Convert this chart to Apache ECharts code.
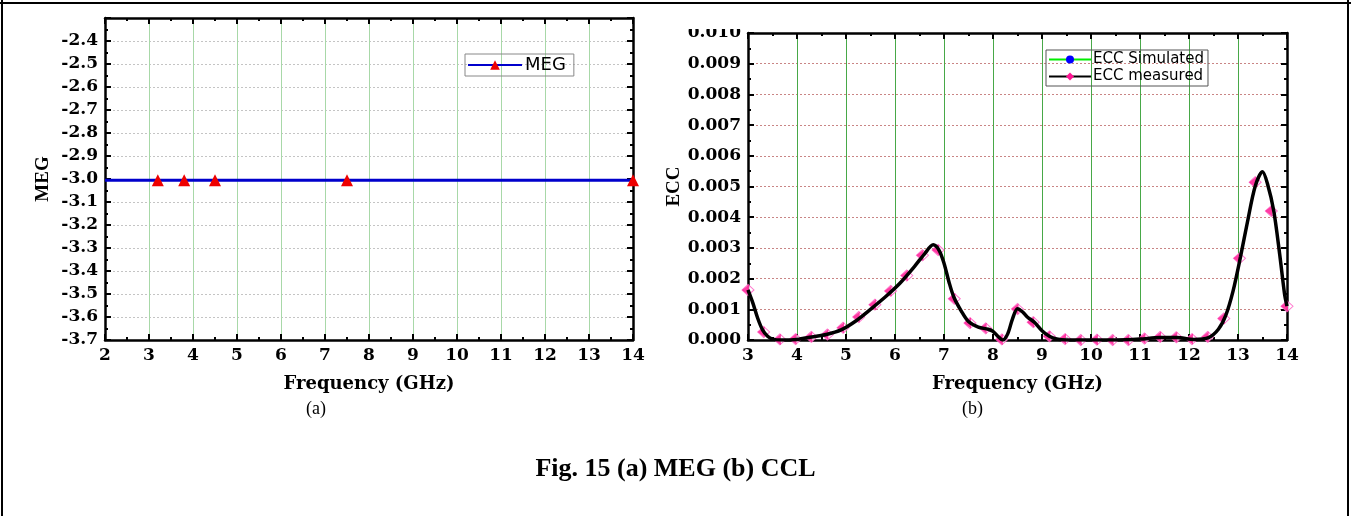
<!DOCTYPE html>
<html>
<head>
<meta charset="utf-8">
<script src="https://cdn.jsdelivr.net/npm/echarts@6/dist/echarts.min.js"></script>
<style>
  html, body { margin: 0; padding: 0; background: #fff; }
  #main { width: 1351px; height: 516px; }
</style>
</head>
<body>
<div id="main"></div>
<script>
// (a) MEG
var megFreq = [2, 3.2, 3.8, 4.5, 7.5, 14];
var megVal = [-3.005, -3.005, -3.005, -3.005, -3.005, -3.005];
var megMarked = [false, true, true, true, true, true];

// (b) ECC measured, the smooth curve
var eccCurveFreq = [3.0, 3.1, 3.2, 3.3, 3.4, 3.5, 3.7, 4.0, 4.3, 4.6, 4.9, 5.2, 5.5, 5.8, 6.1, 6.4, 6.6, 6.78, 6.9, 7.0, 7.1, 7.2, 7.35, 7.5, 7.7, 7.9, 8.0, 8.1, 8.2, 8.3, 8.4, 8.5, 8.6, 8.7, 8.85, 9.0, 9.15, 9.3, 9.5, 10.0, 10.5, 11.0, 11.4, 11.75, 12.1, 12.4, 12.6, 12.75, 12.9, 13.05, 13.2, 13.35, 13.5, 13.6, 13.73, 13.85, 13.95, 14.0];
var eccCurveVal = [0.00163, 0.0012, 0.0007, 0.00032, 0.00012, 0.00003, 0.0, 0.00002, 0.0001, 0.00018, 0.00033, 0.00062, 0.001, 0.0014, 0.00185, 0.0024, 0.0028, 0.0031, 0.00292, 0.0025, 0.0019, 0.0014, 0.00095, 0.0006, 0.00042, 0.00035, 0.00028, 0.00012, 0.0, 0.0002, 0.0007, 0.00102, 0.00092, 0.00075, 0.00057, 0.0003, 0.00012, 0.00003, 0.0, 0.0, 0.0, 0.00003, 0.00008, 0.00008, 0.00002, 0.00008, 0.00035, 0.0008, 0.0016, 0.0027, 0.0039, 0.005, 0.00548, 0.0051, 0.0042, 0.0028, 0.0015, 0.0011];

// (b) ECC measured, the marker points
var eccMarkFreq = [3.00, 3.32, 3.65, 3.97, 4.29, 4.62, 4.94, 5.26, 5.59, 5.91, 6.24, 6.56, 6.88, 7.21, 7.53, 7.85, 8.18, 8.50, 8.82, 9.15, 9.47, 9.79, 10.12, 10.44, 10.76, 11.09, 11.41, 11.74, 12.06, 12.38, 12.71, 13.03, 13.35, 13.68, 14.00];
var eccMarkVal = [0.00163, 0.00026, 0.00002, 0.00003, 0.0001, 0.00018, 0.0004, 0.00075, 0.00115, 0.0016, 0.0021, 0.00276, 0.00293, 0.00134, 0.00055, 0.00038, 0.00002, 0.00101, 0.00058, 0.00012, 0.00003, 0.0, 0.00001, 0.0, 0.0, 0.00005, 0.0001, 0.00009, 0.00003, 0.0001, 0.0007, 0.00266, 0.00514, 0.0042, 0.0011];

var serif = '"Liberation Serif", "Times New Roman", serif';
var wideSerif = '"DejaVu Serif", serif';
var sans = '"DejaVu Sans", Arial, sans-serif';

function pairs(xs, ys) {
  var out = [];
  for (var i = 0; i < xs.length; i++) out.push([xs[i], ys[i]]);
  return out;
}

var megData = [];
for (var i = 0; i < megFreq.length; i++) {
  var item = { value: [megFreq[i], megVal[i]] };
  if (!megMarked[i]) item.symbol = 'none';
  megData.push(item);
}

function frameX(grid, min, max, pos, labels, splitColor, name) {
  return {
    type: 'value', gridIndex: grid, min: min, max: max, interval: 1, position: pos,
    axisLine: { show: true, onZero: false, lineStyle: { color: '#000', width: 2.5 } },
    axisTick: { show: true, inside: true, length: 6, lineStyle: { color: '#000', width: 2 } },
    minorTick: { show: true, splitNumber: 2, length: 3, lineStyle: { color: '#000', width: 2 } },
    axisLabel: { show: labels, color: '#000', fontFamily: wideSerif, fontWeight: 'bold', fontSize: 17, margin: 7 },
    splitLine: { show: !!splitColor, lineStyle: { color: splitColor, width: 1 } },
    name: name || '', nameLocation: 'middle', nameGap: 35,
    nameTextStyle: { color: '#000', fontFamily: wideSerif, fontWeight: 'bold', fontSize: 18 }
  };
}

function frameY(grid, min, max, step, pos, labels, digits, splitColor, name, nameGap) {
  return {
    type: 'value', gridIndex: grid, min: min, max: max, interval: step, position: pos,
    axisLine: { show: true, onZero: false, lineStyle: { color: '#000', width: 2.5 } },
    axisTick: { show: true, inside: true, length: 6, lineStyle: { color: '#000', width: 2 } },
    minorTick: { show: true, splitNumber: 2, length: 3, lineStyle: { color: '#000', width: 2 } },
    axisLabel: {
      show: labels, color: '#000', fontFamily: wideSerif, fontWeight: 'bold', fontSize: 17, margin: 7,
      showMaxLabel: grid === 0 ? false : true,
      formatter: function (v) { return v.toFixed(digits); }
    },
    splitLine: { show: !!splitColor, lineStyle: { color: splitColor, width: 1, type: [2, 2] } },
    name: name || '', nameLocation: 'middle', nameGap: nameGap || 0, nameRotate: 90,
    nameTextStyle: { color: '#000', fontFamily: serif, fontWeight: 'bold', fontSize: 19 }
  };
}

var chart = echarts.init(document.getElementById('main'), null, { renderer: 'canvas' });

var option = {
  backgroundColor: '#fff',
  animation: false,
  grid: [
    { left: 105, top: 18, width: 528, height: 322 },
    { left: 748, top: 33, width: 539, height: 307 }
  ],
  xAxis: [
    frameX(0, 2, 14, 'bottom', true, '#a8d8a8', 'Frequency (GHz)'),
    frameX(0, 2, 14, 'top', false, null),
    frameX(1, 3, 14, 'bottom', true, '#48a848', 'Frequency (GHz)'),
    frameX(1, 3, 14, 'top', false, null)
  ],
  yAxis: [
    frameY(0, -3.7, -2.3, 0.1, 'left', true, 1, '#c4c4c4', 'MEG', 52),
    frameY(0, -3.7, -2.3, 0.1, 'right', false, 1, null),
    frameY(1, 0, 0.01, 0.001, 'left', true, 3, '#c98585', 'ECC', 64),
    frameY(1, 0, 0.01, 0.001, 'right', false, 3, null)
  ],
  legend: [
    {
      data: ['MEG'], left: 465, top: 54,
      borderColor: '#888', borderWidth: 1, padding: [2, 8, 2, 2],
      itemWidth: 54, itemHeight: 12, itemGap: 4,
      textStyle: { fontFamily: sans, fontSize: 18, color: '#000', padding: [0, 0, 0, -2] }
    },
    {
      data: ['ECC Simulated', 'ECC measured'], orient: 'vertical', left: 1046, top: 50,
      borderColor: '#555', borderWidth: 1, padding: [2, 4, 2, 2], itemGap: 2,
      itemWidth: 42, itemHeight: 10,
      textStyle: { fontFamily: sans, fontSize: 15, color: '#000', padding: [0, 0, 0, -3] }
    }
  ],
  series: [
    {
      name: 'MEG', type: 'line', xAxisIndex: 0, yAxisIndex: 0,
      data: megData, symbol: 'triangle', symbolSize: 12,
      itemStyle: { color: '#ee0000' },
      lineStyle: { color: '#0000cc', width: 3 }
    },
    {
      name: 'ECC Simulated', type: 'line', xAxisIndex: 2, yAxisIndex: 2,
      data: [], symbol: 'circle', symbolSize: 8,
      itemStyle: { color: '#0000ff' },
      lineStyle: { color: '#00ee00', width: 3 }
    },
    {
      name: 'ECC measured', type: 'line', xAxisIndex: 2, yAxisIndex: 2,
      data: pairs(eccCurveFreq, eccCurveVal), smooth: 0.3, showSymbol: false,
      symbol: 'diamond', symbolSize: 10,
      itemStyle: { color: '#ff1493' },
      lineStyle: { color: '#000', width: 3.5 }
    },
    {
      type: 'scatter', xAxisIndex: 2, yAxisIndex: 2,
      data: pairs(eccMarkFreq, eccMarkVal), symbol: 'diamond', symbolSize: [12, 11],
      itemStyle: { color: '#fff', borderColor: '#ff55c0', borderWidth: 1 }
    },
    {
      type: 'scatter', xAxisIndex: 2, yAxisIndex: 2,
      data: pairs(eccMarkFreq, eccMarkVal), symbol: 'path://M10,0 L10,20 L0,10 Z',
      symbolSize: [7, 11], symbolOffset: [-2.5, 0],
      itemStyle: { color: '#ff0a8c' }
    }
  ],
  graphic: [
    // the top of the 0.010 label is cut off in the original figure
    { type: 'rect', shape: { x: 660, y: 8, width: 84, height: 21 }, style: { fill: '#fff' }, z: 100 },
    { type: 'line', shape: { x1: 0, y1: 3, x2: 1351, y2: 3 }, style: { stroke: '#000', lineWidth: 2 } },
    { type: 'line', shape: { x1: 2, y1: 0, x2: 2, y2: 516 }, style: { stroke: '#000', lineWidth: 2 } },
    { type: 'line', shape: { x1: 1348, y1: 0, x2: 1348, y2: 516 }, style: { stroke: '#000', lineWidth: 2 } },
    { type: 'text', left: 306, top: 400, style: { text: '(a)', font: '18px ' + serif, fill: '#000' } },
    { type: 'text', left: 962, top: 400, style: { text: '(b)', font: '18px ' + serif, fill: '#000' } },
    { type: 'text', left: 'center', top: 456, style: { text: 'Fig. 15 (a) MEG (b) CCL', font: 'bold 26px ' + serif, fill: '#000' } }
  ]
};

chart.setOption(option);
</script>
</body>
</html>
